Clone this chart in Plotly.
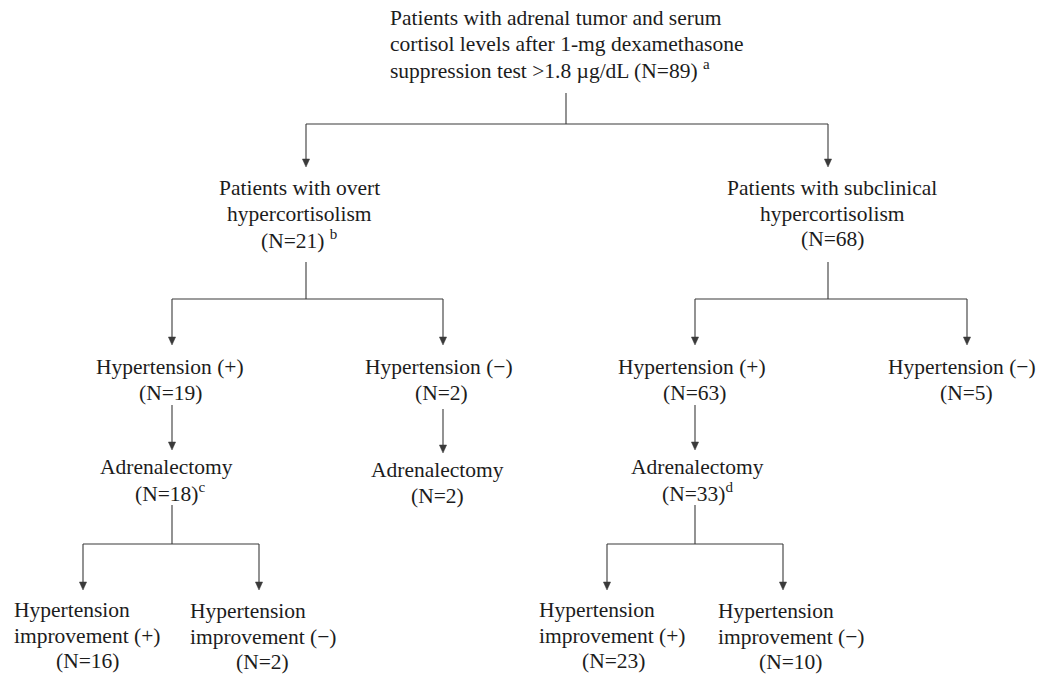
import plotly.graph_objects as go

# ---------------- data (text content of the flowchart) ----------------
node_ids = ["root", "overt", "subclin",
            "ov_ht_pos", "ov_ht_neg", "sc_ht_pos", "sc_ht_neg",
            "ov_adr", "ov_neg_adr", "sc_adr",
            "ov_imp_pos", "ov_imp_neg", "sc_imp_pos", "sc_imp_neg"]
node_labels = [
    ["Patients with adrenal tumor and serum",
     "cortisol levels after 1-mg dexamethasone",
     "suppression test >1.8 \u00b5g/dL"],
    ["Patients with overt", "hypercortisolism"],
    ["Patients with subclinical", "hypercortisolism"],
    ["Hypertension (+)"],
    ["Hypertension (\u2212)"],
    ["Hypertension (+)"],
    ["Hypertension (\u2212)"],
    ["Adrenalectomy"],
    ["Adrenalectomy"],
    ["Adrenalectomy"],
    ["Hypertension", "improvement (+)"],
    ["Hypertension", "improvement (\u2212)"],
    ["Hypertension", "improvement (+)"],
    ["Hypertension", "improvement (\u2212)"],
]
node_counts = [89, 21, 68, 19, 2, 63, 5, 18, 2, 33, 16, 2, 23, 10]
node_notes = ["a", "b", "", "", "", "", "", "c", "", "d", "", "", "", ""]
note_space = [True, True, False, False, False, False, False, False, False, False,
              False, False, False, False]
edges = [("root", ["overt", "subclin"]),
         ("overt", ["ov_ht_pos", "ov_ht_neg"]),
         ("subclin", ["sc_ht_pos", "sc_ht_neg"]),
         ("ov_ht_pos", ["ov_adr"]),
         ("ov_ht_neg", ["ov_neg_adr"]),
         ("sc_ht_pos", ["sc_adr"]),
         ("ov_adr", ["ov_imp_pos", "ov_imp_neg"]),
         ("sc_adr", ["sc_imp_pos", "sc_imp_neg"])]

# ---------------- layout (pixel positions, styles) ----------------
W, H = 1039, 678
FONT = "Liberation Serif, Times New Roman, serif"
FS = 21.5
TXT = "#1c1c1c"
LINE = "#3a3a3a"
LW = 1.1
LH = 25.5
AH_LEN, AH_HALF = 8, 3.6

# text block layout: (x of text, y of first line, align of label lines, x of count line)
text_pos = {
    "root": (388, 18, "left", None),
    "overt": (299, 188, "center", 299),
    "subclin": (832, 188, "center", 832),
    "ov_ht_pos": (170, 367, "center", 170),
    "ov_ht_neg": (439, 367, "center", 441),
    "sc_ht_pos": (692, 367, "center", 694),
    "sc_ht_neg": (962, 367, "center", 966),
    "ov_adr": (166, 467, "center", 170),
    "ov_neg_adr": (437, 470, "center", 437),
    "sc_adr": (697, 467, "center", 697),
    "ov_imp_pos": (12, 610, "left", 87),
    "ov_imp_neg": (188, 611, "left", 262),
    "sc_imp_pos": (537, 610, "left", 613),
    "sc_imp_neg": (716, 611, "left", 790),
}
# connector anchors: (x, y of incoming arrow tip, y where outgoing stem starts)
anchor = {
    "root": (566, None, 93),
    "overt": (306, 167, 262),
    "subclin": (828, 167, 262),
    "ov_ht_pos": (172, 345, 405),
    "ov_ht_neg": (443, 345, 409),
    "sc_ht_pos": (695, 345, 405),
    "sc_ht_neg": (967, 345, None),
    "ov_adr": (172, 450, 505),
    "ov_neg_adr": (443, 453, None),
    "sc_adr": (695, 450, 505),
    "ov_imp_pos": (83, 590, None),
    "ov_imp_neg": (259, 590, None),
    "sc_imp_pos": (607, 590, None),
    "sc_imp_neg": (783, 590, None),
}
bar_y = {"root": 124, "overt": 299, "subclin": 299, "ov_adr": 544, "sc_adr": 544}

fig = go.Figure()
annotations = []
shapes = []


def seg(x0, y0, x1, y1):
    shapes.append(dict(type="line", x0=x0, x1=x1, y0=y0, y1=y1, xref="x", yref="y",
                       line=dict(color=LINE, width=LW)))


def arrow(x, y_from, y_to):
    seg(x, y_from, x, y_to - AH_LEN + 1)
    shapes.append(dict(type="path", xref="x", yref="y",
                       path=f"M {x - AH_HALF} {y_to - AH_LEN} L {x + AH_HALF} {y_to - AH_LEN} L {x} {y_to} Z",
                       fillcolor=LINE, line=dict(color=LINE, width=0.5)))


# text
for nid, lines, n, note, sp in zip(node_ids, node_labels, node_counts, node_notes, note_space):
    x, y0, align, xc = text_pos[nid]
    count_txt = f"(N={n})" + ((" " if sp else "") + f"<sup>{note}</sup>" if note else "")
    if nid == "root":
        lines = lines[:-1] + [lines[-1] + " " + count_txt]
    for i, ln in enumerate(lines):
        annotations.append(dict(x=x, y=y0 + i * LH, xref="x", yref="y", text=ln,
                                showarrow=False, xanchor=align, yanchor="middle",
                                font=dict(family=FONT, size=FS, color=TXT)))
    if nid != "root":
        annotations.append(dict(x=xc, y=y0 + len(lines) * LH, xref="x", yref="y",
                                text=count_txt, showarrow=False, xanchor="center",
                                yanchor="middle",
                                font=dict(family=FONT, size=FS, color=TXT)))

# connectors
for parent, kids in edges:
    px, _, py = anchor[parent]
    if len(kids) == 1:
        kx, ky, _ = anchor[kids[0]]
        arrow(kx, py, ky)
    else:
        by = bar_y[parent]
        seg(px, py, px, by)
        xs = [anchor[k][0] for k in kids]
        seg(min(xs), by, max(xs), by)
        for k in kids:
            kx, ky, _ = anchor[k]
            arrow(kx, by, ky)

fig.update_layout(
    width=W, height=H,
    margin=dict(l=0, r=0, t=0, b=0),
    paper_bgcolor="white", plot_bgcolor="white",
    xaxis=dict(range=[0, W], visible=False, fixedrange=True),
    yaxis=dict(range=[H, 0], visible=False, fixedrange=True),
    showlegend=False,
    annotations=annotations,
    shapes=shapes,
)
fig.write_html("out.html", config={"displayModeBar": False},
               post_script="document.body.style.margin='0';document.body.style.overflow='hidden';")
